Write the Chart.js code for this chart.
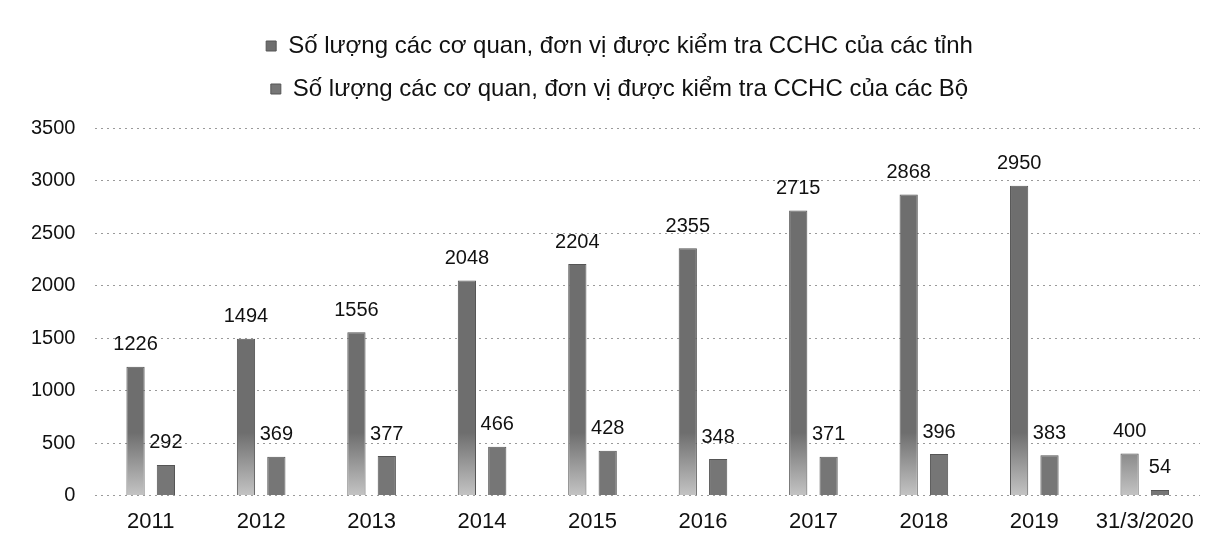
<!DOCTYPE html>
<html>
<head>
    <meta charset="UTF-8">
    <title>Số lượng cơ quan, đơn vị được kiểm tra CCHC</title>
    <script src="https://cdn.jsdelivr.net/npm/chart.js@4.4.1/dist/chart.umd.min.js"></script>
    <style>
        html, body { margin: 0; padding: 0; background: #fff; }
        #wrap { width: 1206px; height: 549px; position: relative; }
    </style>
</head>
<body>
<div id="wrap">
    <canvas id="myChart"></canvas>
</div>
<script>
    var years = ['2011', '2012', '2013', '2014', '2015', '2016', '2017', '2018', '2019', '31/3/2020'];
    var tinhValues = [1226, 1494, 1556, 2048, 2204, 2355, 2715, 2868, 2950, 400];
    var boValues = [292, 369, 377, 466, 428, 348, 371, 396, 383, 54];
    var seriesNames = [
        'Số lượng các cơ quan, đơn vị được kiểm tra CCHC của các tỉnh',
        'Số lượng các cơ quan, đơn vị được kiểm tra CCHC của các Bộ'
    ];

    var fontName = '"Liberation Sans", Arial, sans-serif';

    // grey bars that fade out a bit near the bottom, like the scan
    function tinhFill(ctx) {
        var chart = ctx.chart;
        var area = chart.chartArea;
        if (!area) return '#7a7a7a';
        var y = chart.scales.y;
        var g = chart.ctx.createLinearGradient(0, y.getPixelForValue(600), 0, area.bottom);
        g.addColorStop(0, '#6e6e6e');
        g.addColorStop(1, '#c4c4c4');
        return g;
    }

    // draws the numbers above each bar
    var valueLabels = {
        id: 'valueLabels',
        afterDatasetsDraw: function(chart) {
            var c = chart.ctx;
            c.save();
            c.font = '20px ' + fontName;
            c.fillStyle = '#111';
            c.textAlign = 'center';
            c.textBaseline = 'middle';
            chart.data.datasets.forEach(function(ds, i) {
                chart.getDatasetMeta(i).data.forEach(function(bar, j) {
                    c.fillText(ds.data[j], bar.x, bar.y - 22);
                });
            });
            c.restore();
        }
    };

    // more room between the legend and the plot, legend sits a bit right of centre
    var legendGap = {
        id: 'legendGap',
        afterInit: function(chart) {
            var legend = chart.legend;
            var fit = legend.fit;
            legend.fit = function() {
                fit.call(this);
                this.height += 17;
            };
        },
        afterLayout: function(chart) {
            chart.legend.left += 14;
            chart.legend.right += 14;
        }
    };

    new Chart('myChart', {
        type: 'bar',
        data: {
            labels: years,
            datasets: [{
                label: seriesNames[0],
                data: tinhValues,
                backgroundColor: tinhFill,
                borderColor: '#555',
                borderWidth: 1,
                categoryPercentage: 0.55,
                barPercentage: 0.6
            }, {
                label: seriesNames[1],
                data: boValues,
                backgroundColor: '#767676',
                borderColor: '#555',
                borderWidth: 1,
                categoryPercentage: 0.55,
                barPercentage: 0.6
            }]
        },
        options: {
            responsive: true,
            maintainAspectRatio: false,
            animation: false,
            layout: { padding: { left: 11, right: 6, top: 15, bottom: 9 } },
            plugins: {
                tooltip: { enabled: false },
                legend: {
                    position: 'top',
                    labels: {
                        color: '#111',
                        font: { family: fontName, size: 24 },
                        boxWidth: 10,
                        boxHeight: 10,
                        padding: 19
                    }
                }
            },
            scales: {
                x: {
                    grid: { display: false },
                    border: { display: false },
                    ticks: {
                        color: '#111',
                        padding: 5,
                        font: { family: fontName, size: 22 }
                    }
                },
                y: {
                    min: 0,
                    max: 3500,
                    ticks: {
                        stepSize: 500,
                        color: '#111',
                        padding: 20,
                        font: { family: fontName, size: 20 },
                        callback: function(v) { return String(v); }
                    },
                    border: { display: false, dash: [2, 4] },
                    grid: { color: '#9a9a9a', drawTicks: false }
                }
            }
        },
        plugins: [valueLabels, legendGap]
    });
</script>
</body>
</html>
